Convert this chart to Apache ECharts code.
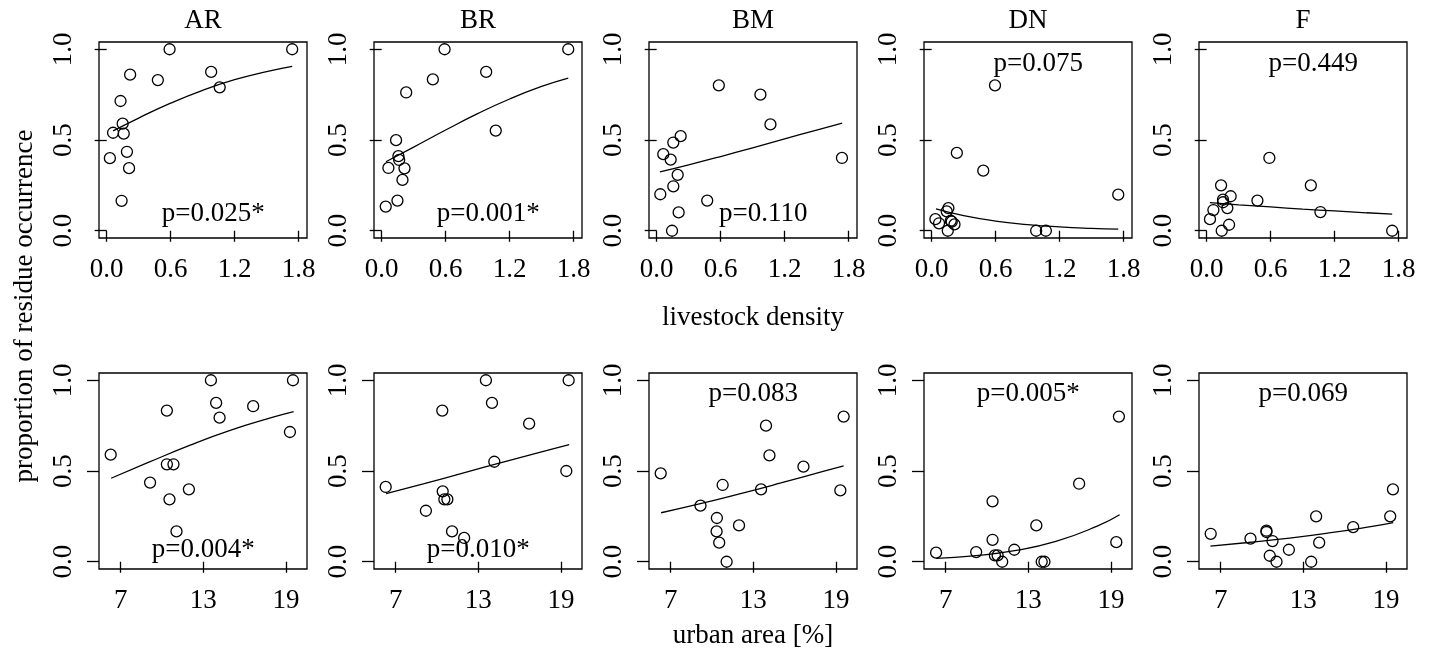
<!DOCTYPE html>
<html>
<head>
<meta charset="utf-8">
<script src="https://cdn.jsdelivr.net/npm/echarts@6/dist/echarts.min.js"></script>
<style>
  html, body { margin: 0; padding: 0; background: #fff; }
  #chart { width: 1429px; height: 661px; }
</style>
</head>
<body>
<div id="chart"></div>
<script>
// panel names and axis ticks
const panels = ['AR', 'BR', 'BM', 'DN', 'F'];
const livestockTicks = [0, 0.6, 1.2, 1.8];
const urbanTicks = [7, 13, 19];
const yTicks = [0, 0.5, 1];

// top row: livestock density vs proportion of residue occurrence
const arLivestock = [[0.59,1.0],[1.74,1.0],[0.22,0.86],[0.48,0.83],[0.98,0.875],[1.06,0.79],[0.13,0.715],[0.15,0.59],[0.06,0.54],[0.16,0.535],[0.03,0.40],[0.19,0.435],[0.21,0.345],[0.14,0.165]];
const brLivestock = [[0.59,1.0],[1.75,1.0],[0.48,0.834],[0.98,0.875],[0.23,0.762],[1.07,0.552],[0.135,0.499],[0.157,0.411],[0.164,0.39],[0.063,0.346],[0.214,0.344],[0.195,0.28],[0.148,0.166],[0.038,0.133]];
const bmLivestock = [[0.583,0.801],[0.973,0.75],[1.067,0.586],[1.738,0.401],[0.225,0.521],[0.156,0.486],[0.062,0.422],[0.131,0.392],[0.197,0.308],[0.156,0.245],[0.034,0.201],[0.474,0.166],[0.206,0.101],[0.144,0.0]];
const dnLivestock = [[0.594,0.801],[0.236,0.429],[0.484,0.331],[1.75,0.199],[0.157,0.125],[0.141,0.107],[0.035,0.064],[0.069,0.041],[0.188,0.05],[0.214,0.035],[0.179,0.055],[0.151,0.0],[0.98,0.0],[1.071,0.0]];
const fLivestock = [[0.588,0.401],[0.135,0.25],[0.977,0.25],[1.067,0.103],[1.74,0.0],[0.225,0.19],[0.476,0.166],[0.153,0.171],[0.153,0.157],[0.194,0.125],[0.063,0.114],[0.031,0.064],[0.21,0.033],[0.141,0.0]];

// fitted curves, top row
const arLivestockFit = [[0.06,0.55],[0.3,0.621],[0.6,0.703],[0.9,0.774],[1.2,0.832],[1.5,0.877],[1.74,0.906]];
const brLivestockFit = [[0.04,0.38],[0.3,0.461],[0.6,0.555],[0.9,0.645],[1.2,0.726],[1.5,0.795],[1.75,0.841]];
const bmLivestockFit = [[0.03,0.324],[0.3,0.363],[0.6,0.409],[0.9,0.457],[1.2,0.506],[1.5,0.555],[1.74,0.593]];
const dnLivestockFit = [[0.04,0.12],[0.3,0.083],[0.6,0.053],[0.9,0.034],[1.2,0.021],[1.5,0.013],[1.75,0.009]];
const fLivestockFit = [[0.03,0.155],[0.3,0.143],[0.6,0.131],[0.9,0.119],[1.2,0.109],[1.5,0.099],[1.74,0.092]];

// bottom row: urban area vs proportion of residue occurrence
const arUrban = [[6.27,0.59],[10.35,0.833],[13.55,1.0],[13.93,0.875],[14.18,0.794],[16.62,0.857],[19.51,1.0],[19.29,0.715],[10.35,0.537],[10.83,0.537],[9.13,0.436],[11.95,0.399],[10.54,0.344],[11.05,0.167]];
const brUrban = [[6.27,0.412],[10.38,0.833],[13.55,1.0],[13.99,0.875],[16.69,0.761],[19.56,1.0],[19.39,0.5],[14.16,0.551],[10.41,0.388],[10.53,0.344],[10.75,0.344],[9.19,0.281],[11.09,0.167],[11.97,0.131]];
const bmUrban = [[6.27,0.487],[19.56,0.8],[13.92,0.75],[14.17,0.586],[16.64,0.524],[19.32,0.393],[10.77,0.423],[13.56,0.399],[9.16,0.309],[10.35,0.241],[11.96,0.2],[10.33,0.167],[10.52,0.105],[11.06,0.0]];
const dnUrban = [[19.58,0.8],[16.69,0.43],[10.4,0.333],[13.58,0.2],[10.4,0.121],[19.39,0.108],[6.3,0.05],[9.21,0.053],[11.98,0.066],[10.57,0.035],[10.77,0.035],[11.1,0.0],[13.97,0.0],[14.17,0.0]];
const fUrban = [[19.51,0.399],[19.31,0.25],[13.93,0.25],[16.62,0.191],[6.27,0.154],[10.32,0.171],[10.32,0.164],[9.16,0.127],[10.76,0.114],[14.15,0.105],[11.95,0.066],[10.56,0.033],[11.05,0.0],[13.57,0.0]];

// fitted curves, bottom row
const arUrbanFit = [[6.3,0.46],[9,0.547],[12,0.641],[15,0.725],[18,0.795],[19.56,0.827]];
const brUrbanFit = [[6.3,0.375],[9,0.429],[12,0.491],[15,0.553],[18,0.613],[19.6,0.645]];
const bmUrbanFit = [[6.3,0.27],[9,0.317],[12,0.374],[15,0.434],[18,0.496],[19.56,0.528]];
const dnUrbanFit = [[6.3,0.018],[9,0.0325],[12,0.061],[15,0.112],[18,0.196],[19.63,0.259]];
const fUrbanFit = [[6.25,0.086],[9,0.106],[12,0.13],[15,0.16],[18,0.195],[19.53,0.215]];

// p-values and where they sit (top / bottom of the panel)
const pLivestock = ['p=0.025*', 'p=0.001*', 'p=0.110', 'p=0.075', 'p=0.449'];
const pLivestockWhere = ['bottom', 'bottom', 'bottom', 'top', 'top'];
const pUrban = ['p=0.004*', 'p=0.010*', 'p=0.083', 'p=0.005*', 'p=0.069'];
const pUrbanWhere = ['bottom', 'bottom', 'top', 'top', 'top'];

const FONT = '"Liberation Serif", "DejaVu Serif", serif';
const FS = 27;
const lefts = [99, 374, 649, 924, 1199];
const W = 208, H = 196;
const rowTop = [42, 373];

const rows = [
  { pts: [arLivestock, brLivestock, bmLivestock, dnLivestock, fLivestock],
    fit: [arLivestockFit, brLivestockFit, bmLivestockFit, dnLivestockFit, fLivestockFit],
    p: pLivestock, where: pLivestockWhere, ticks: livestockTicks,
    min: -0.072, max: 1.879, fmt: v => v.toFixed(1), px: 1, py: { top: 0.92, bottom: 0.095 } },
  { pts: [arUrban, brUrban, bmUrban, dnUrban, fUrban],
    fit: [arUrbanFit, brUrbanFit, bmUrbanFit, dnUrbanFit, fUrbanFit],
    p: pUrban, where: pUrbanWhere, ticks: urbanTicks,
    min: 5.42, max: 20.53, fmt: v => String(v), px: 13, py: { top: 0.925, bottom: 0.065 } }
];

const grid = [], xAxis = [], yAxis = [], series = [];
const tickStyle = { color: '#000', width: 1.3 };
const labelStyle = { color: '#000', fontSize: FS, fontFamily: FONT };

rows.forEach((row, r) => {
  panels.forEach((name, c) => {
    const i = r * 5 + c;
    grid.push({ left: lefts[c], top: rowTop[r], width: W, height: H, show: true,
      borderColor: '#000', borderWidth: 1.3, backgroundColor: 'transparent' });
    xAxis.push({ gridIndex: i, type: 'value', min: row.min, max: row.max,
      axisLine: { show: false }, splitLine: { show: false },
      axisTick: { show: true, length: 11, customValues: row.ticks, lineStyle: tickStyle },
      axisLabel: Object.assign({ customValues: row.ticks, formatter: row.fmt, margin: 18 }, labelStyle) });
    yAxis.push({ gridIndex: i, type: 'value', min: -0.04, max: 1.04,
      axisLine: { show: false }, splitLine: { show: false },
      axisTick: { show: true, length: 12, customValues: yTicks, lineStyle: tickStyle },
      axisLabel: Object.assign({ customValues: yTicks, formatter: v => v.toFixed(1), rotate: 90, margin: 22 }, labelStyle) });
    series.push({ type: 'scatter', xAxisIndex: i, yAxisIndex: i, data: row.pts[c],
      symbol: 'circle', symbolSize: 11, silent: true,
      itemStyle: { color: 'transparent', borderColor: '#000', borderWidth: 1.3, opacity: 1 } });
    series.push({ type: 'line', xAxisIndex: i, yAxisIndex: i, data: row.fit[c],
      smooth: true, showSymbol: false, silent: true,
      lineStyle: { color: '#000', width: 1.3 } });
    series.push({ type: 'scatter', xAxisIndex: i, yAxisIndex: i,
      data: [[row.px, row.py[row.where[c]]]], symbolSize: 0, silent: true,
      itemStyle: { opacity: 1 },
      label: Object.assign({ show: true, position: 'inside', formatter: row.p[c] }, labelStyle) });
  });
});

const textStyle = text => ({ text, font: FS + 'px ' + FONT, fill: '#000', textAlign: 'center', textVerticalAlign: 'middle' });
const graphic = panels.map((name, c) => ({ type: 'text', x: lefts[c] + W / 2, y: 21, style: textStyle(name) }));
graphic.push({ type: 'text', x: 753, y: 318, style: textStyle('livestock density') });
graphic.push({ type: 'text', x: 753, y: 636, style: textStyle('urban area [%]') });
graphic.push({ type: 'text', x: 25, y: 306, rotation: Math.PI / 2, style: textStyle('proportion of residue occurrence') });

const chart = echarts.init(document.getElementById('chart'));
chart.setOption({
  animation: false,
  backgroundColor: '#fff',
  grid, xAxis, yAxis, series, graphic
});
</script>
</body>
</html>
